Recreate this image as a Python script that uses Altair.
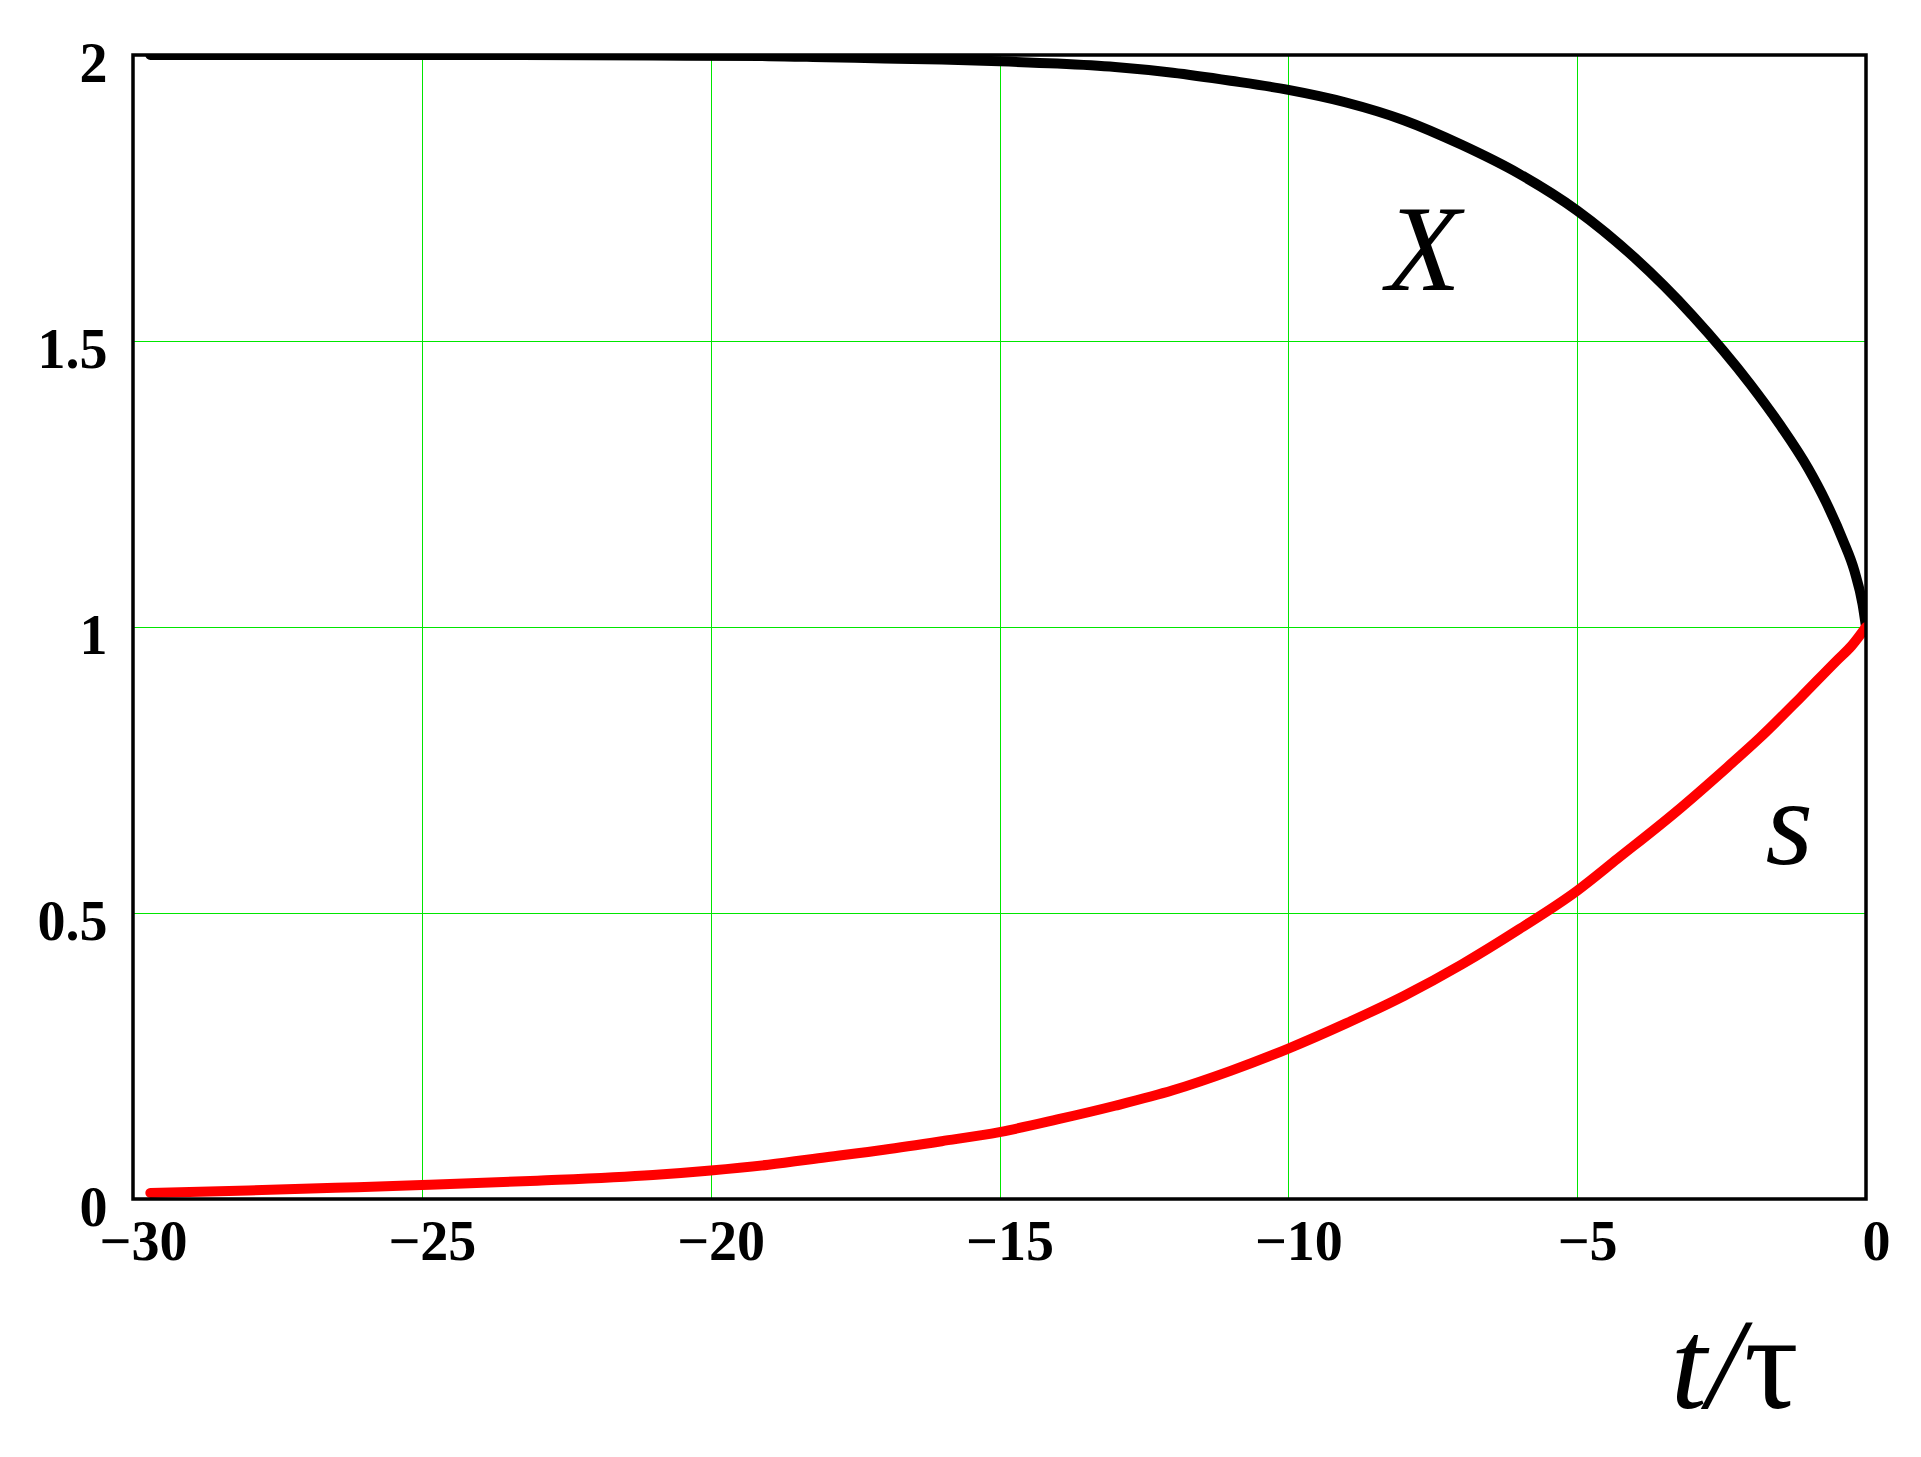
import altair as alt
import pandas as pd

# ---- data ----
t_X = [-29.7, -27, -24, -21, -19, -18, -17, -16, -15, -14, -13, -12, -11, -10,
       -9, -8, -7, -6, -5, -4, -3, -2, -1.5, -1, -0.7, -0.4, -0.2, -0.06, 0]
X_vals = [2.0, 2.0, 2.0, 1.999, 1.998, 1.996, 1.994, 1.992, 1.989, 1.985, 1.979, 1.969, 1.955, 1.939,
          1.917, 1.886, 1.843, 1.792, 1.728, 1.645, 1.544, 1.424, 1.355, 1.277, 1.22, 1.152, 1.098, 1.04, 1.0]

t_s = [-29.7, -28, -26.5, -25, -23, -21, -20, -19, -18, -17, -16, -15, -14, -13, -12, -11,
       -10, -9, -8, -7, -6, -5, -4.3, -3.3, -2.4, -1.84, -1.14, -0.5, -0.25, 0]
s_vals = [0.0105, 0.0148, 0.0195, 0.0245, 0.032, 0.042, 0.050, 0.060, 0.073, 0.086, 0.101, 0.117,
          0.139, 0.163, 0.190, 0.224, 0.263, 0.307, 0.355, 0.41, 0.472, 0.539, 0.595, 0.676,
          0.755, 0.806, 0.876, 0.942, 0.967, 1.0]

x_ticks = [-30, -25, -20, -15, -10, -5, 0]
y_ticks = [0, 0.5, 1, 1.5, 2]

label_texts = ["X", "s"]
label_t = [-7.66, -1.33]
label_v = [1.590, 0.586]

FONT = "Liberation Serif"
GRID = "#00e600"
W, H = 1733, 1144

df_X = pd.DataFrame({"t": t_X, "v": X_vals})
df_s = pd.DataFrame({"t": t_s, "v": s_vals})
df_lab = pd.DataFrame({"t": label_t, "v": label_v, "txt": label_texts})

xscale = alt.Scale(domain=[-30, 0], nice=False, zero=False)
yscale = alt.Scale(domain=[0, 2], nice=False, zero=False)

common_axis = dict(
    title=None, grid=True, gridColor=GRID, gridWidth=1, domain=False,
    ticks=False, tickSize=0, labelFont=FONT, labelFontWeight="bold",
    labelFontSize=56, labelColor="black", labelFlush=False,
    labelOverlap=False, format="~g",
)
xaxis = alt.Axis(values=x_ticks, labelPadding=16, labelOffset=10, **common_axis)
yaxis = alt.Axis(values=y_ticks, labelPadding=26, labelOffset=9, **common_axis)

X_enc = alt.X("t:Q", scale=xscale, axis=xaxis)
Y_enc = alt.Y("v:Q", scale=yscale, axis=yaxis)

line_X = alt.Chart(df_X).mark_line(
    color="black", strokeWidth=10, interpolate="monotone", strokeCap="round", clip=True
).encode(x=X_enc, y=Y_enc)

line_s = alt.Chart(df_s).mark_line(
    color="#ff0000", strokeWidth=10, interpolate="monotone", strokeCap="round", clip=True
).encode(x=X_enc, y=Y_enc)

labels = alt.Chart(df_lab).mark_text(
    font=FONT, fontStyle="italic", fontSize=122, align="center", baseline="alphabetic", color="black"
).encode(x=X_enc, y=Y_enc, text="txt:N")

border = alt.Chart(alt.Data(values=[{"b": 1}])).mark_rect(
    fillOpacity=0, stroke="black", strokeWidth=3.5
).encode(x=alt.value(0), x2=alt.value(W), y=alt.value(0), y2=alt.value(H))

title_t = alt.Chart(alt.Data(values=[{"txt": "t/"}])).mark_text(
    font=FONT, fontStyle="italic", fontSize=130, align="right", baseline="alphabetic", color="black"
).encode(x=alt.value(1610), y=alt.value(1353), text="txt:N")

title_tau = alt.Chart(alt.Data(values=[{"txt": "τ"}])).mark_text(
    font=FONT, fontSize=136, align="left", baseline="alphabetic", color="black"
).encode(x=alt.value(1611), y=alt.value(1353), text="txt:N")

chart = alt.layer(line_X, line_s, labels, border, title_t, title_tau).properties(
    width=W, height=H,
    autosize=alt.AutoSizeParams(type="none"),
    padding={"left": 125, "top": 47, "right": 45, "bottom": 250},
    background="white",
).configure_view(stroke=None)

chart.save("out.html", embed_options={"renderer": "svg", "actions": False})
